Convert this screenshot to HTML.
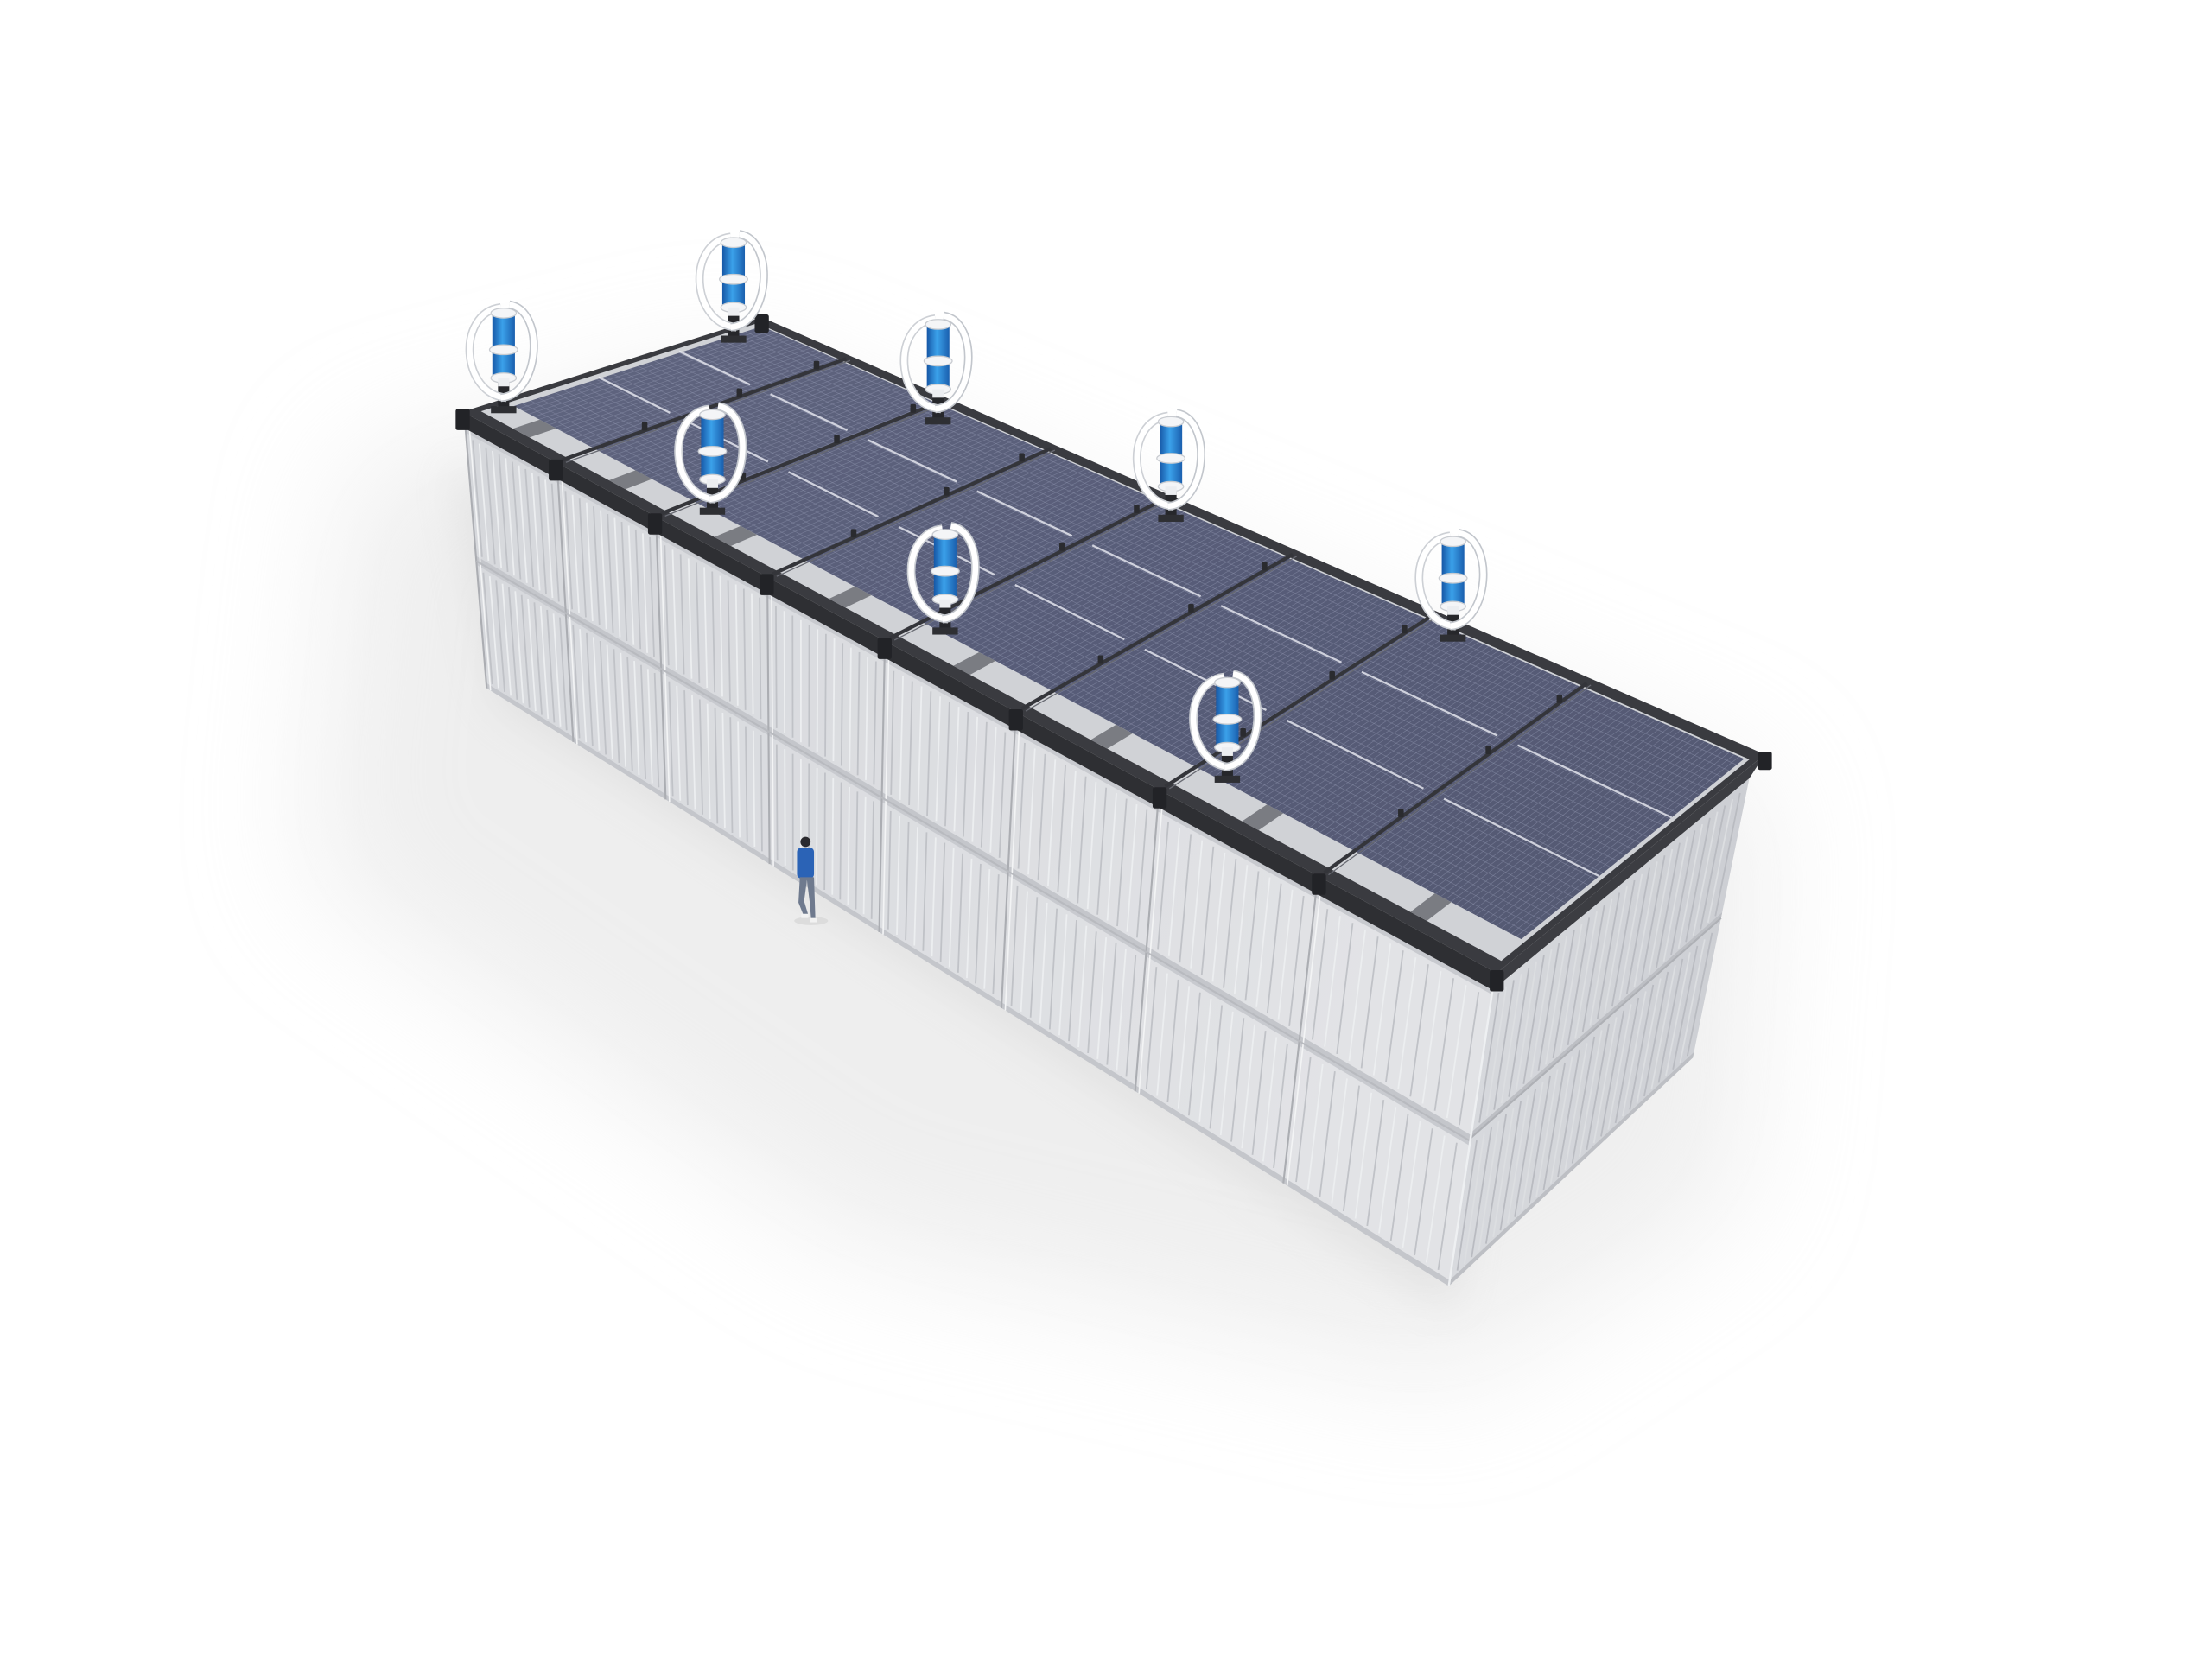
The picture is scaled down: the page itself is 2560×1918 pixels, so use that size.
<!DOCTYPE html>
<html><head><meta charset="utf-8"><style>html,body{margin:0;padding:0;background:#fff;overflow:hidden}svg{display:block}</style></head>
<body>
<svg id="s" xmlns="http://www.w3.org/2000/svg" width="2560" height="1918" viewBox="0 0 1568 1175" preserveAspectRatio="none">
<defs>
<filter id="blur" x="-50%" y="-50%" width="200%" height="200%"><feGaussianBlur stdDeviation="45"/></filter>
<filter id="blur2" x="-50%" y="-50%" width="200%" height="200%"><feGaussianBlur stdDeviation="15"/></filter>
<linearGradient id="fr" x1="0" y1="0" x2="1" y2="0.3"><stop offset="0" stop-color="#d6d8dc"/><stop offset="1" stop-color="#e2e3e6"/></linearGradient>
<linearGradient id="rt" x1="0" y1="0" x2="1" y2="0"><stop offset="0" stop-color="#d8dade"/><stop offset="1" stop-color="#ccced3"/></linearGradient>
<linearGradient id="pv" x1="0" y1="0" x2="1" y2="1"><stop offset="0" stop-color="#60657f"/><stop offset="0.5" stop-color="#575c78"/><stop offset="1" stop-color="#545972"/></linearGradient>
<linearGradient id="blu" x1="0" y1="0" x2="1" y2="0"><stop offset="0" stop-color="#1657a6"/><stop offset="0.45" stop-color="#3ba1ea"/><stop offset="1" stop-color="#1a5fae"/></linearGradient>
</defs>
<g id="g"></g>
</svg>
<script>
var NS="http://www.w3.org/2000/svg",G=document.getElementById('g');
function el(t,a){var e=document.createElementNS(NS,t);for(var k in a)e.setAttribute(k,a[k]);G.appendChild(e);return e;}
function L(p,q,t){return [p[0]+(q[0]-p[0])*t,p[1]+(q[1]-p[1])*t];}
function pts(a){return a.map(function(p){return p[0].toFixed(1)+','+p[1].toFixed(1)}).join(' ');}
function poly(a,f,extra){var o={points:pts(a),fill:f};for(var k in extra)o[k]=extra[k];return el('polygon',o);}
function line(p,q,c,w,op){return el('line',{x1:p[0],y1:p[1],x2:q[0],y2:q[1],stroke:c,'stroke-width':w,'stroke-opacity':op||1});}
// shadow
poly([[250,330],[520,260],[1250,560],[1230,850],[1030,980],[600,880],[220,620]],'#dedede',{filter:'url(#blur)',opacity:0.5});
poly([[320,330],[1060,720],[1030,930],[350,500]],'#d4d4d4',{filter:'url(#blur2)',opacity:0.45});
var A=[328,292],B=[540,225],C=[1251,535],D=[1061,690];
var Ap=[330,304],Dp=[1058,702],Bl=[345,488],Br=[1027,912],Cp=[1240,552],Rb=[1200,750];
function F(u,w){return L(L(Ap,Dp,u),L(Bl,Br,u),w);}
function R(s,w){return L(L(Dp,Cp,s),L(Br,Rb,s),w);}
function T(u,v){return L(L(A,D,u),L(B,C,u),v);}
poly([Ap,Dp,Br,Bl],'url(#fr)');
var bs=[0,.09,.186,.294,.408,.535,.674,.828,1];
for(var i=0;i<8;i++){var u0=bs[i],u1=bs[i+1];
 for(var tier=0;tier<2;tier++){var w0=tier?0.51:0,w1=tier?1:0.51;
  var n=14;
  for(var k=1;k<n;k++){var u=u0+(u1-u0)*k/n;
   line(F(u,w0+0.03),F(u,w1-0.03),k%2?'#c0c2c7':'#eceef0',1.1);}
  poly([F(u0,w0),F(u1,w0),F(u1,w0+0.015),F(u0,w0+0.015)],'#c8cacf');
  poly([F(u0,w1-0.02),F(u1,w1-0.02),F(u1,w1),F(u0,w1)],'#c4c6cb');
 }
 line(F(u0,0),F(u0,1),'#abadb2',1.3);
 line(F(u0+0.004,0),F(u0+0.004,1),'#f3f4f5',1);
}
line(F(0,0.51),F(1,0.51),'#b8babf',1.3);
poly([Dp,Cp,Rb,Br],'url(#rt)');
for(var tier=0;tier<2;tier++){var w0=tier?0.5:0,w1=tier?1:0.5;
 for(var k=1;k<34;k++){var s=k/34;line(R(s,w0+0.03),R(s,w1-0.03),k%2?'#b9bbc1':'#dcdee1',1.1);}
 poly([R(0,w1-0.02),R(1,w1-0.02),R(1,w1),R(0,w1)],'#bdbfc4');}
line(R(0,0.5),R(1,0.5),'#aeb0b5',1.3);
line(Dp,Br,'#eef0f2',1.5);
poly([A,B,C,D],'#3a3b40');
poly([A,D,Dp,Ap],'#2e2f33');
poly([D,C,Cp,Dp],'#3c3d42');
poly([T(.006,.04),T(.994,.04),T(.994,.965),T(.006,.965)],'#d0d2d6');
poly([T(.012,.13),T(.99,.13),T(.99,.96),T(.012,.96)],'url(#pv)');
for(var k=1;k<200;k++){var u=.012+(.978)*k/200;line(T(u,.13),T(u,.96),'#9095b0',0.45,0.5);}
for(var k=1;k<30;k++){var v=.13+.83*k/30;line(T(.012,v),T(.99,v),'#9095b0',0.45,0.5);}
[.42,.69].forEach(function(v){for(var i=0;i<8;i++){var u0=bs[i]+.01,u1=bs[i+1]-.01;line(T(u0,v),T(u1,v),'#eceef5',1.4,0.8);}});
for(var i=1;i<8;i++){var u=bs[i];line(T(u,0.02),T(u,0.98),'#34353a',2.6);line(T(u+.004,0.02),T(u+.004,0.98),'#686a72',0.8);
 [.3,.62,.88].forEach(function(v){var p=T(u,v);el('rect',{x:p[0]-2,y:p[1]-6,width:4,height:6,fill:'#2a2b2f',rx:1});});}
for(var i=0;i<8;i++){var um=(bs[i]+bs[i+1])/2;poly([T(um-.008,.04),T(um+.008,.04),T(um+.008,.13),T(um-.008,.13)],'#7a7c82');}
for(var i=0;i<=8;i++){var p=L(A,D,bs[i]);el('rect',{x:p[0]-5,y:p[1]-2,width:10,height:15,fill:'#222327',rx:1.5});}
[B,C].forEach(function(p){el('rect',{x:p[0]-5,y:p[1]-2,width:10,height:13,fill:'#222327',rx:1.5});});
function turb(x,y){
 var b=y+40;
 el('rect',{x:x-4,y:y+18,width:8,height:24,fill:'#26272b'});
 el('rect',{x:x-9,y:b-2,width:18,height:5,fill:'#2e2f33'});
 el('path',{d:'M'+(x-2)+','+(y-32)+' C'+(x-34)+','+(y-28)+' '+(x-30)+','+(y+30)+' '+(x+2)+','+(y+32),fill:'none',stroke:'#cdd0d5','stroke-width':6});
 el('path',{d:'M'+(x-2)+','+(y-32)+' C'+(x-34)+','+(y-28)+' '+(x-30)+','+(y+30)+' '+(x+2)+','+(y+32),fill:'none',stroke:'#ffffff','stroke-width':4});
 el('rect',{x:x-8,y:y-28,width:16,height:46,fill:'url(#blu)',rx:2});
 el('ellipse',{cx:x,cy:y-28,rx:9,ry:3.5,fill:'#f4f5f7',stroke:'#c9ccd1','stroke-width':.8});
 el('ellipse',{cx:x,cy:y-2,rx:10,ry:3.5,fill:'#f4f5f7',stroke:'#c9ccd1','stroke-width':.8});
 el('ellipse',{cx:x,cy:y+18,rx:9,ry:3.5,fill:'#f4f5f7',stroke:'#c9ccd1','stroke-width':.8});
 el('path',{d:'M'+(x+4)+','+(y-34)+' C'+(x+30)+','+(y-30)+' '+(x+26)+','+(y+30)+' '+(x-2)+','+(y+32),fill:'none',stroke:'#c2c6cc','stroke-width':6});
 el('path',{d:'M'+(x+4)+','+(y-34)+' C'+(x+30)+','+(y-30)+' '+(x+26)+','+(y+30)+' '+(x-2)+','+(y+32),fill:'none',stroke:'#ffffff','stroke-width':4});
 el('rect',{x:x-4,y:y+18,width:8,height:6,fill:'#eceef1'});
}
[[357,250],[520,200],[665,258],[505,322],[830,327],[670,407],[1030,412],[870,512]].forEach(function(p){turb(p[0],p[1]);});
el('ellipse',{cx:575,cy:653,rx:12,ry:3,fill:'#d5d5d5',opacity:.7});
el('circle',{cx:571,cy:597,r:3.6,fill:'#2a2a2e'});
el('rect',{x:565,y:601,width:12,height:22,fill:'#2b63b6',rx:3});
el('path',{d:'M567,622 L566,640 L570,650 L573,649 L570,639 L572,624 L574,640 L575,652 L578,652 L577,622 Z',fill:'#6f7a8e'});
el('rect',{x:568,y:648,width:5,height:3,fill:'#f2f2f2'});
el('rect',{x:574,y:651,width:5,height:3,fill:'#f2f2f2'});
</script>
</body></html>
